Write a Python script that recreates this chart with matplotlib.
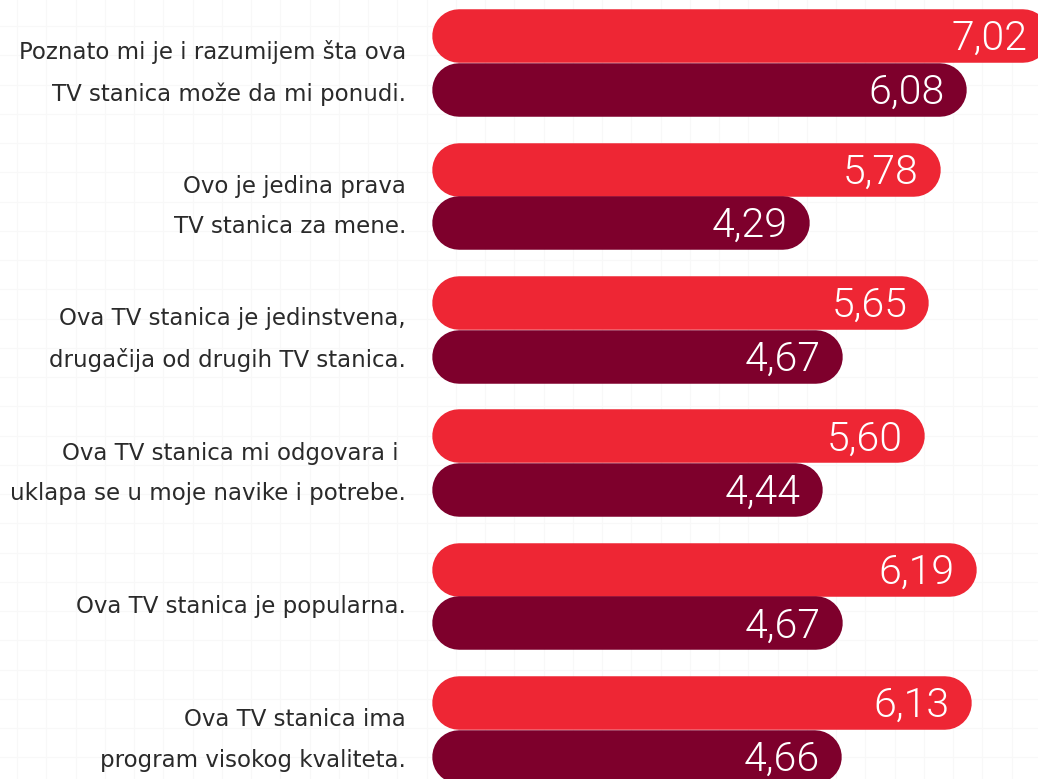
import numpy as np
import matplotlib
matplotlib.use("Agg")
import matplotlib.pyplot as plt

# podaci
labels = [
    "Poznato mi je i razumijem šta ova\nTV stanica može da mi ponudi.",
    "Ovo je jedina prava\nTV stanica za mene.",
    "Ova TV stanica je jedinstvena,\ndrugačija od drugih TV stanica.",
    "Ova TV stanica mi odgovara i \nuklapa se u moje navike i potrebe.",
    "Ova TV stanica je popularna.",
    "Ova TV stanica ima\nprogram visokog kvaliteta.",
]
val_top = [7.02, 5.78, 5.65, 5.60, 6.19, 6.13]
val_bottom = [6.08, 4.29, 4.67, 4.44, 4.67, 4.66]

RED = "#EE2634"
DARK = "#7E002C"
TXT = "#2a2a2a"

W, H = 1038, 779
fig = plt.figure(figsize=(W / 100, H / 100), dpi=100)

# faint background grid
bg = fig.add_axes([0, 0, 1, 1])
bg.set_xlim(0, W)
bg.set_ylim(H, 0)
bg.set_xticks(np.arange(17, W, 29.25))
bg.set_yticks(np.arange(26, H, 29.25))
bg.grid(True, color="#f8f8f8", lw=0.8)
bg.tick_params(length=0, labelbottom=False, labelleft=False)
for s in bg.spines.values():
    s.set_visible(False)

# main axes: x in data units, y in pixels from top
px_per_unit = 88.0
x0 = 432
ax = fig.add_axes([x0 / W, 0, 1 - x0 / W, 1])
ax.set_xlim(0, (W - x0) / px_per_unit)
ax.set_ylim(H, 0)
ax.axis("off")
ax.patch.set_alpha(0)

bar_h = 53.5  # px
lw_pt = bar_h * 72 / 100
r = bar_h / 2 / px_per_unit
pad = 22 / px_per_unit
step = 133.4
first = 63

for i, (lab, a, b) in enumerate(zip(labels, val_top, val_bottom)):
    gc = first + i * step
    for v, yc, c in [(a, gc - bar_h / 2, RED), (b, gc + bar_h / 2, DARK)]:
        ax.plot([r, v - r], [yc, yc], color=c, lw=lw_pt,
                solid_capstyle="round", clip_on=True)
        ax.text(v - pad, yc + 14, f"{v:.2f}".replace(".", ","),
                ha="right", va="baseline", color="white",
                fontsize=29.5, family="Roboto", fontweight=300)
    fig.text(406 / W, 1 - (gc + 10) / H, lab, ha="right", va="center",
             multialignment="right", color=TXT, fontsize=16.5,
             family="DejaVu Sans", linespacing=1.95)

fig.savefig("out.png", dpi=100)
